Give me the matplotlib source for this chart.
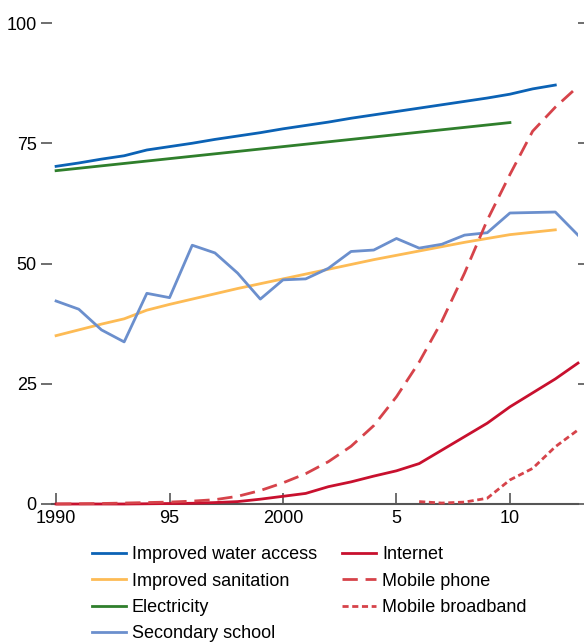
import matplotlib
matplotlib.use("Agg")
import matplotlib.pyplot as plt

plt.rcParams['font.family'] = ['Liberation Sans Narrow', 'Liberation Sans', 'DejaVu Sans']

# data
water_years = list(range(1990, 2013))
water = [70.2, 70.9, 71.7, 72.4, 73.6, 74.3, 75.0, 75.8, 76.5, 77.2, 78.0, 78.7,
         79.4, 80.2, 80.9, 81.6, 82.3, 83.0, 83.7, 84.4, 85.2, 86.3, 87.1]

sanit_years = list(range(1990, 2013))
sanitation = [35.0, 36.2, 37.4, 38.5, 40.3, 41.5, 42.6, 43.7, 44.8, 45.8, 46.8, 47.8,
              48.8, 49.8, 50.8, 51.7, 52.6, 53.5, 54.4, 55.2, 56.0, 56.5, 57.0]

elec_years = [1990, 1995, 2000, 2005, 2010]
electricity = [69.3, 71.8, 74.3, 76.8, 79.3]

school_years = list(range(1990, 2014))
school = [42.2, 40.5, 36.2, 33.7, 43.8, 42.9, 53.8, 52.2, 48.0, 42.6, 46.6, 46.8,
          49.0, 52.5, 52.8, 55.2, 53.2, 54.0, 55.9, 56.4, 60.5, 60.6, 60.7, 55.9]

internet_years = list(range(1990, 2014))
internet = [0.0, 0.0, 0.0, 0.0, 0.05, 0.1, 0.15, 0.3, 0.5, 1.0, 1.6, 2.2,
            3.6, 4.6, 5.8, 6.9, 8.4, 11.2, 14.0, 16.8, 20.2, 23.1, 26.0, 29.3]

mobile_years = list(range(1990, 2014))
mobile = [0.0, 0.05, 0.1, 0.2, 0.3, 0.4, 0.6, 0.9, 1.6, 2.8, 4.4, 6.3,
          8.8, 12.0, 16.3, 22.3, 29.5, 38.0, 48.0, 59.0, 68.5, 77.5, 82.5, 86.8]

broad_years = [2006, 2007, 2008, 2009, 2010, 2011, 2012, 2013]
broadband = [0.5, 0.2, 0.4, 1.2, 5.0, 7.4, 11.9, 15.4]

xticks = [1990, 1995, 2000, 2005, 2010]
xticklabels = ["1990", "95", "2000", "5", "10"]
yticks = [0, 25, 50, 75, 100]

fig = plt.figure(figsize=(5.84, 6.44), dpi=100)
ax = fig.add_axes([52/584, 140/644, (578-52)/584, 481/644])

lw = 2.0
ax.plot(water_years, water, color="#0b62b5", lw=lw, label="Improved water access")
ax.plot(sanit_years, sanitation, color="#fdbb55", lw=lw, label="Improved sanitation")
ax.plot(elec_years, electricity, color="#2f7f2c", lw=lw, label="Electricity")
ax.plot(school_years, school, color="#6b8fcd", lw=lw, label="Secondary school")
ax.plot(internet_years, internet, color="#c8102e", lw=lw, label="Internet", clip_on=False)
ax.plot(mobile_years, mobile, color="#d6434a", lw=lw, dashes=(5.5, 2.8),
        label="Mobile phone", clip_on=False)
ax.plot(broad_years, broadband, color="#d6434a", lw=lw, dashes=(2.2, 1.3),
        label="Mobile broadband", clip_on=False)

ax.set_xlim(1989.82, 2013)
ax.set_ylim(0, 100)

for s in ["top", "left", "right"]:
    ax.spines[s].set_visible(False)
ax.spines["bottom"].set_color("#555555")
ax.spines["bottom"].set_linewidth(1.5)
ax.spines["bottom"].set_zorder(0)

ax.set_xticks(xticks)
ax.set_xticklabels(xticklabels)
ax.set_yticks(yticks)
ax.tick_params(axis="x", direction="in", length=8, width=1.2, color="#555555",
               labelsize=13, pad=4)
ax.tick_params(axis="y", direction="out", length=8, width=1.2, color="#555555",
               labelsize=13, pad=3, right=True)

fig.legend(loc="upper left", bbox_to_anchor=(85/584, 1 - 539/644), ncol=2,
           frameon=False, fontsize=13, handlelength=1.85, handletextpad=0.35,
           columnspacing=1.4, labelspacing=0.52, borderaxespad=0)

fig.savefig("out.png", dpi=100)
